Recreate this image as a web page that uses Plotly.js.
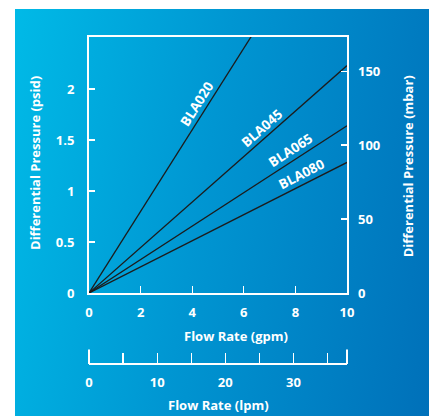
<!DOCTYPE html>
<html>
<head>
<meta charset="utf-8">
<script src="https://cdn.plot.ly/plotly-3.0.1.min.js"></script>
<style>
  html, body { margin: 0; padding: 0; background: #ffffff; }
  #wrap { position: relative; width: 429px; height: 416px; overflow: hidden; }
  #bg { position: absolute; left: 15px; top: 9px; width: 414px; height: 407px;
        background: linear-gradient(100deg, #00bae7 0%, #0096d2 45%, #0070b9 100%); }
  #chart { position: absolute; left: 0; top: 0; width: 429px; height: 416px; }
</style>
</head>
<body>
<div id="wrap"><div id="bg"></div><div id="chart"></div></div>
<script>
// ---- data ----
const flowGpm = [0, 10];
const bla020 = [0, 4.00];
const bla045 = [0, 2.23];
const bla065 = [0, 1.64];
const bla080 = [0, 1.28];
const seriesNames = ['BLA020', 'BLA045', 'BLA065', 'BLA080'];
const seriesValues = [bla020, bla045, bla065, bla080];
const psidTicks = [0, 0.5, 1, 1.5, 2];
const mbarTicks = [0, 50, 100, 150];
const gpmTicks = [0, 2, 4, 6, 8, 10];
const lpmTicks = [0, 5, 10, 15, 20, 25, 30, 35];
const lpmTickText = ['0', '', '10', '', '20', '', '30', ''];

const PSID_TO_MBAR = 68.9476;
const GPM_TO_LPM = 3.785411784;
const psidMax = 2.51;
const gpmMax = 10;

// label placement along each line (gpm position, upward pixel shift, angle)
const labelAt = [4.17, 6.70, 7.82, 8.24];
const labelShift = [19, 13, 12, 11];
const labelAngle = [-57.8, -41.5, -33, -27];

const white = '#ffffff';
const fam = '"Open Sans", "DejaVu Sans", sans-serif';
const tickFont = {family: fam, size: 13, color: white, weight: 'bold'};
const titleFont = {family: fam, size: 13, color: white, weight: 'bold'};

const traces = seriesValues.map((v, i) => ({
  x: flowGpm, y: v, name: seriesNames[i], type: 'scatter', mode: 'lines',
  line: {color: '#1c1c1c', width: 1.3}, hoverinfo: 'skip', showlegend: false,
  xaxis: 'x', yaxis: 'y'
}));
traces.push({x: [0], y: [0], xaxis: 'x2', yaxis: 'y2', type: 'scatter', mode: 'markers',
  marker: {opacity: 0}, hoverinfo: 'skip', showlegend: false});

const annotations = seriesNames.map((n, i) => {
  const slope = seriesValues[i][1] / flowGpm[1];
  return {x: labelAt[i], y: slope * labelAt[i], xref: 'x', yref: 'y', text: n,
    showarrow: false, textangle: labelAngle[i], yshift: labelShift[i],
    xanchor: 'center', yanchor: 'middle',
    font: {family: fam, size: 13.5, color: white, weight: 'bold'}};
});
const titleAnn = (text, x, y, angle) => ({text: text, xref: 'paper', yref: 'paper', x: x, y: y,
  textangle: angle, showarrow: false, xanchor: 'center', yanchor: 'middle', font: titleFont});
annotations.push(
  titleAnn('Differential Pressure (psid)', -0.209, 0.615, -90),
  titleAnn('Differential Pressure (mbar)', 1.2376, 0.6055, -90),
  titleAnn('Flow Rate (gpm)', 0.569, 0.0855, 0),
  titleAnn('Flow Rate (lpm)', 0.501, -0.1255, 0)
);

const yDomBottom = 0.2171;
const layout = {
  width: 429, height: 416,
  margin: {l: 89, r: 82, t: 37, b: 52, pad: 0},
  paper_bgcolor: 'rgba(0,0,0,0)', plot_bgcolor: 'rgba(0,0,0,0)',
  showlegend: false,
  xaxis: {range: [0, gpmMax], tickvals: gpmTicks, ticks: 'inside', ticklen: 7, tickwidth: 1.2,
    tickcolor: white, showline: true, linecolor: white, linewidth: 2, mirror: true,
    showgrid: false, zeroline: false, tickfont: tickFont, anchor: 'y', ticklabelstandoff: 6,
    fixedrange: true},
  yaxis: {domain: [yDomBottom, 1], range: [0, psidMax], tickvals: psidTicks, ticks: 'inside',
    ticklen: 6, tickwidth: 1.2, tickcolor: white, showline: true, linecolor: white, linewidth: 2,
    mirror: true, showgrid: false, zeroline: false, tickfont: tickFont, ticklabelstandoff: 10,
    fixedrange: true},
  yaxis2: {overlaying: 'y', side: 'right', anchor: 'x', range: [0, psidMax * PSID_TO_MBAR],
    tickvals: mbarTicks, ticks: 'inside', ticklen: 6, tickwidth: 1.2, tickcolor: white,
    showline: false, showgrid: false, zeroline: false, tickfont: tickFont, ticklabelstandoff: 10,
    fixedrange: true},
  xaxis2: {overlaying: 'x', anchor: 'free', position: 0, side: 'bottom',
    range: [0, gpmMax * GPM_TO_LPM], tickvals: lpmTicks, ticktext: lpmTickText,
    ticks: 'inside', ticklen: 10, tickwidth: 1.2, tickcolor: white,
    showline: true, linecolor: white, linewidth: 2, showgrid: false, zeroline: false,
    tickfont: tickFont, ticklabelstandoff: 6, fixedrange: true},
  shapes: [
    {type: 'line', xref: 'paper', yref: 'paper', x0: 0, x1: 0, y0: 0, y1: 0.044,
     line: {color: white, width: 2}},
    {type: 'line', xref: 'paper', yref: 'paper', x0: 1, x1: 1, y0: 0, y1: 0.044,
     line: {color: white, width: 2}}
  ],
  annotations: annotations
};

Plotly.newPlot('chart', traces, layout, {displayModeBar: false, staticPlot: true});
</script>
</body>
</html>
